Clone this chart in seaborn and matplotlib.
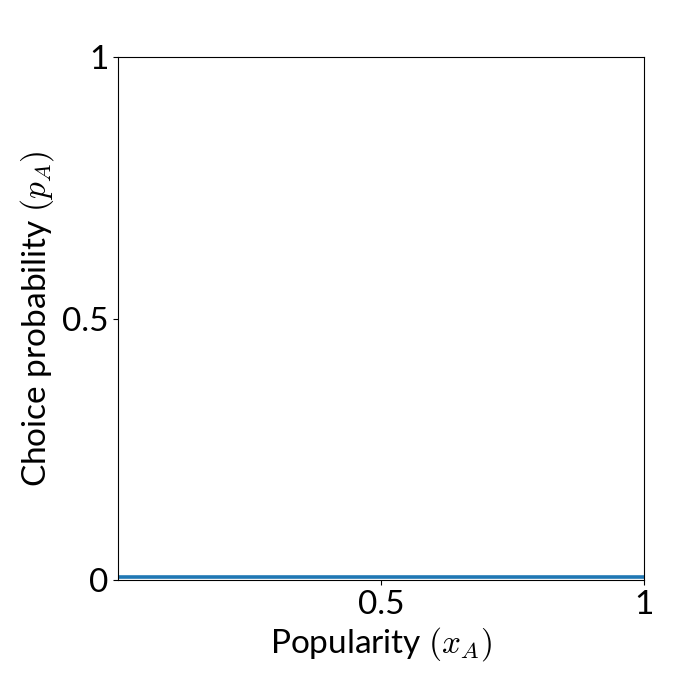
import matplotlib
matplotlib.use("Agg")
import matplotlib.pyplot as plt
import seaborn as sns
import pandas as pd

popularity = [0.0, 0.25, 0.5, 0.75, 1.0]
choice_prob = [0.006, 0.006, 0.006, 0.006, 0.006]
x_ticks = [0.5, 1.0]
x_tick_labels = ["0.5", "1"]
y_ticks = [0.0, 0.5, 1.0]
y_tick_labels = ["0", "0.5", "1"]

plt.rcParams['font.family'] = ['Lato', 'DejaVu Sans']
plt.rcParams['mathtext.fontset'] = 'cm'

df = pd.DataFrame({"x": popularity, "y": choice_prob})

fig = plt.figure(figsize=(7, 7), dpi=100)
ax = fig.add_axes([118/700, 1 - 580/700, (644 - 118)/700, (580 - 57)/700])
sns.lineplot(data=df, x="x", y="y", ax=ax, color="#1f77b4", linewidth=2.6)
ax.set_xlim(0, 1)
ax.set_ylim(0, 1)
ax.set_xticks(x_ticks)
ax.set_xticklabels(x_tick_labels, fontsize=24)
ax.set_yticks(y_ticks)
ax.set_yticklabels(y_tick_labels, fontsize=24)
ax.set_xlabel(r"Popularity $(x_A)$", fontsize=24)
ax.set_ylabel(r"Choice probability $(p_A)$", fontsize=24)
fig.savefig("out.png", dpi=100)
